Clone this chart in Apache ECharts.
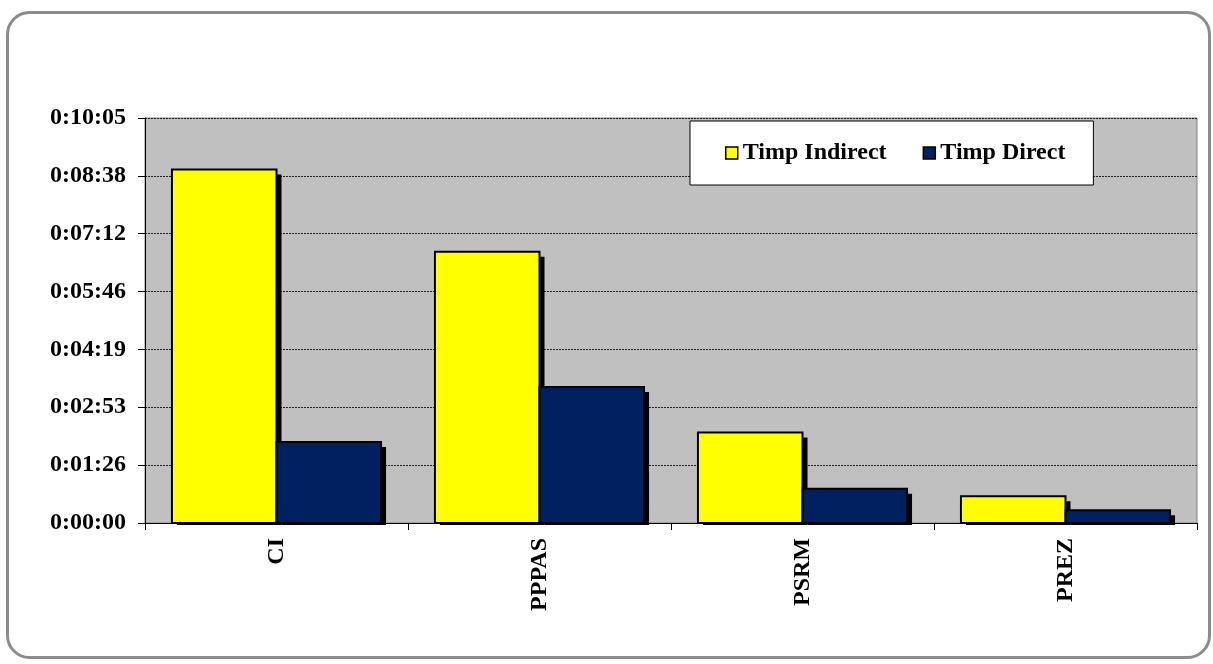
<!DOCTYPE html>
<html>
<head>
<meta charset="utf-8">
<script src="https://cdn.jsdelivr.net/npm/echarts@6/dist/echarts.min.js"></script>
<style>
html,body{margin:0;padding:0;background:#fff;}
#chart{width:1213px;height:664px;}
</style>
</head>
<body>
<div id="chart"></div>
<script>
// date
var categories = ['CI', 'PPPAS', 'PSRM', 'PREZ'];
var seriesNames = ['Timp Indirect', 'Timp Direct'];
// secunde
var timpIndirect = [528, 405, 135, 40];
var timpDirect = [121, 203, 51, 19];
var tickStep = 86.4;   // 0.001 zile
var tickMax = 604.8;

var colors = ['#ffff00', '#002060'];
var gapRatio = 0.205;

function fmtTime(v) {
    var s = Math.round(v);
    var h = Math.floor(s / 3600);
    var m = Math.floor((s % 3600) / 60);
    var sec = s % 60;
    return h + ':' + (m < 10 ? '0' : '') + m + ':' + (sec < 10 ? '0' : '') + sec;
}

// bara cu umbra neagra, ca in Excel
function barRenderer(k) {
    return function (params, api) {
        var cat = api.value(0);
        var base = api.coord([cat, 0]);
        var top = api.coord([cat, api.value(1)]);
        var band = api.size([1, 0])[0];
        var w = band * (1 - gapRatio) / 2;
        var x = base[0] - w + k * w;
        var h = base[1] - top[1];
        return {
            type: 'group',
            children: [
                {
                    type: 'rect',
                    shape: {x: x + 5, y: top[1] + 5, width: w, height: Math.max(h - 3, 0)},
                    style: {fill: '#000'}
                },
                {
                    type: 'rect',
                    shape: {x: x, y: top[1], width: w, height: h},
                    style: {fill: colors[k], stroke: '#000', lineWidth: 2}
                }
            ]
        };
    };
}

var myChart = echarts.init(document.getElementById('chart'));
var option = {
    animation: false,
    textStyle: {fontFamily: '"Liberation Serif", "Times New Roman", serif'},
    graphic: [{
        type: 'rect',
        left: 5, top: 10,
        shape: {width: 1202, height: 645, r: 22},
        style: {fill: 'none', stroke: '#8c8c8c', lineWidth: 3},
        silent: true
    }],
    grid: {
        left: 145,
        top: 118,
        right: 16,
        bottom: 141,
        show: true,
        backgroundColor: '#c0c0c0',
        borderColor: '#808080',
        borderWidth: 1
    },
    legend: {
        data: seriesNames,
        left: 690,
        top: 121,
        padding: [20, 28, 20, 35],
        backgroundColor: '#fff',
        borderColor: '#000',
        borderWidth: 1,
        itemWidth: 12,
        itemHeight: 12,
        itemGap: 36,
        icon: 'rect',
        itemStyle: {borderColor: '#000', borderWidth: 1.5},
        textStyle: {
            fontSize: 24,
            fontWeight: 'bold',
            color: '#000'
        }
    },
    xAxis: {
        type: 'category',
        data: categories,
        axisLine: {lineStyle: {color: '#000', width: 1}},
        axisTick: {show: true, length: 7, lineStyle: {color: '#000'}},
        axisLabel: {
            rotate: 90,
            margin: 15,
            fontSize: 24,
            fontWeight: 'bold',
            color: '#000'
        },
        splitLine: {show: false}
    },
    yAxis: {
        type: 'value',
        min: 0,
        max: tickMax,
        interval: tickStep,
        axisLine: {show: true, lineStyle: {color: '#000'}},
        axisTick: {show: true, length: 7, lineStyle: {color: '#000'}},
        axisLabel: {
            formatter: fmtTime,
            fontSize: 24,
            fontWeight: 'bold',
            color: '#000',
            margin: 19
        },
        splitLine: {
            show: true,
            lineStyle: {color: '#222', type: [2, 1], width: 1}
        }
    },
    series: [
        {
            name: seriesNames[0],
            type: 'custom',
            renderItem: barRenderer(0),
            itemStyle: {color: colors[0]},
            encode: {x: 0, y: 1},
            data: timpIndirect.map(function (v, i) { return [i, v]; })
        },
        {
            name: seriesNames[1],
            type: 'custom',
            renderItem: barRenderer(1),
            itemStyle: {color: colors[1]},
            encode: {x: 0, y: 1},
            data: timpDirect.map(function (v, i) { return [i, v]; })
        }
    ]
};
myChart.setOption(option);
</script>
</body>
</html>
